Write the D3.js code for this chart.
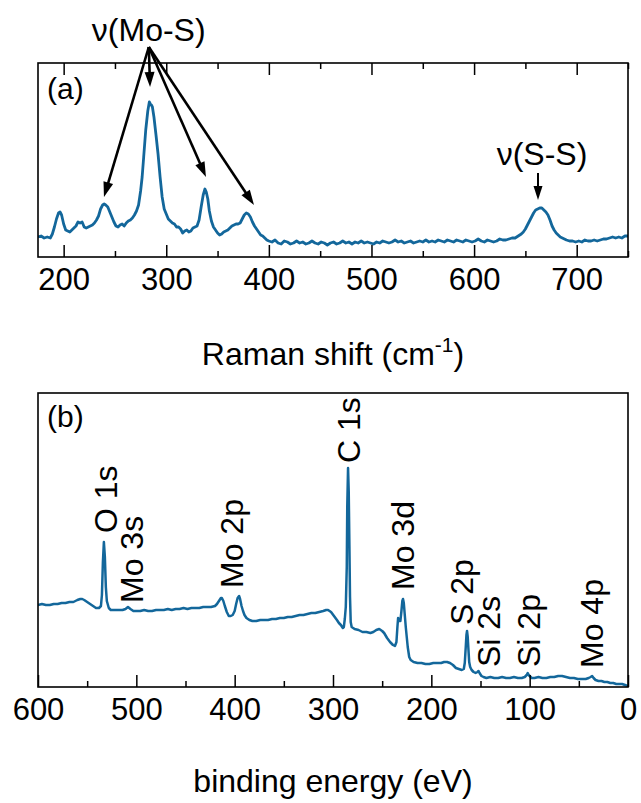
<!DOCTYPE html>
<html>
<head>
<meta charset="utf-8">
<script src="https://cdn.jsdelivr.net/npm/d3@7"></script>
<style>
	body { margin: 0; background: #fff; }
	svg { display: block; font-family: "Liberation Sans", Arial, Helvetica, sans-serif; }
</style>
</head>
<body>
<div id="chart"></div>
<script>
'use strict';

/*** Data ---> ***/
// Raman spectrum, [shift (cm-1), intensity (a.u.)]
var ramanSpectrum = [
	[175,20],[178,21],[181,19],[184,20],[187,19],[189,23],[191,30],[193,38],[195,44],[196.5,45],[198,42],[200,33],
	[202,27],[204,26],[206,25],[208,27],[210,29],[212,31],[214,35],[216,34],[218,35],[220,30],[222,29],[224,30],
	[226,31],[228,32],[230,34],[232,37],[234,41],[236,48],[238,52],[239.5,53],[241,52],[243,50],[245,45],[247,40],
	[249,35],[251,31],[253,30],[255,32],[257,33],[259,31],[261,34],[263,36],[265,37],[267,39],[269,42],[271,46],
	[273,52],[275,66],[276.5,80],[278,100],[280,127],[282,146],[283.5,155],[284.5,153],[285.5,152],[286.5,150],
	[288,140],[290,122],[292,103],[294,80],[296,60],[298,48],[300,43],[302,38],[304,36],[306,34],[308,33],[310,30],
	[312,30],[314,28],[316,24],[318,26],[320,27],[322,25],[324,26],[326,29],[328,30],[330,31],[332,37],[334,50],
	[336,62],[337.7,68],[339,65],[340.5,58],[342,46],[344,36],[346,30],[348,27],[350,24],[352,22],[354,23],[356,25],
	[358,26],[360,27],[362,29],[364,31],[366,32],[368,33],[370,33],[372,34],[374,38],[376,42],[378,44],[380,43],
	[382,40],[384,35],[386,31],[388,28],[390,25],[392,22],[394,21],[396,19],[398,17],[400,16],[403,15],[406,17],
	[409,14],[412,13],[415,16],[418,15],[421,13],[424,14],[427,16],[430,14],[433,15],[436,13],[439,14],[442,16],
	[445,14],[448,13],[451,15],[454,14],[457,12],[460,14],[463,15],[466,13],[469,14],[472,16],[475,14],[478,15],
	[481,13],[484,15],[487,14],[490,16],[493,14],[496,15],[499,14],[502,13],[505,15],[508,14],[511,16],[514,15],
	[517,14],[520,15],[523,17],[526,15],[529,16],[532,14],[535,15],[538,16],[541,14],[544,15],[547,16],[550,15],
	[553,17],[556,15],[559,16],[562,15],[565,17],[568,16],[571,15],[574,17],[577,16],[580,15],[583,17],[586,16],
	[589,15],[592,17],[595,16],[598,15],[601,16],[604,18],[607,16],[610,15],[613,17],[616,16],[619,15],[622,16],
	[625,18],[628,17],[631,17],[634,18],[637,19],[640,19],[643,21],[646,23],[648,25],[650,28],[652,32],[654,36],
	[656,40],[658,44],[660,47],[662,48],[664,49],[666,49],[668,47],[670,45],[672,42],[674,37],[676,31],[678,27],
	[680,24],[682,22],[684,20],[686,19],[688,18],[690,17],[693,16],[696,16],[699,15],[702,16],[705,15],[708,17],
	[711,16],[714,16],[717,17],[720,16],[723,17],[726,18],[729,18],[732,19],[735,20],[738,19],[741,20],[744,19],
	[747,21],[750,21]
];

// XPS survey, [binding energy (eV), intensity (a.u.)]
var xpsSpectrum = [
	[600,82],[596,83],[592,82],[588,82],[584,83],[580,83],[576,84],[572,84],[568,85],[564,85],[560,87],[557,88],
	[555,88],[553,87],[550,85],[547,83],[544,81],[541,79],[538,79],[536,81],[535,92],[534,125],[533,145],[532,130],
	[531,100],[530,86],[528,79],[526,77],[523,77],[520,77],[517,77],[514,77],[511,78],[508.5,80],[506,78],[503,76],
	[500,76],[496,76],[492,77],[488,76],[484,76],[480,77],[476,77],[472,77],[468,78],[464,77],[460,78],[456,78],
	[452,79],[448,78],[444,79],[440,79],[436,79],[432,80],[428,80],[424,80],[420,81],[418,83],[416,86],[414,89],
	[413,89],[411.5,86],[410,81],[408,75],[406,71],[404,71],[402,72],[400,76],[398.5,83],[397,89],[395.5,91],
	[394.5,88],[393,81],[391.5,76],[390,72],[388,69],[385,67],[382,66],[378,66],[374,67],[370,67],[366,67],[362,68],
	[358,68],[354,69],[350,69],[346,70],[342,70],[338,71],[334,72],[330,72],[326,73],[322,74],[318,74],[314,75],
	[310,76],[307,77],[305,77],[302,75],[299,71],[296,67],[294,64],[292,62],[290,59],[289,60],[288,68],[287,80],
	[286,120],[285.5,180],[284.7,219],[284,195],[283.3,140],[282.7,90],[282,65],[281,60],[278,58],[274,57],[270,55],
	[266,55],[262,54],[259,55],[256,57],[253,58],[250,56],[248,54],[245,49],[242,45],[239,42],[237,41],[235.5,45],
	[234.5,60],[233.8,69],[232.8,66],[231.5,66],[230.5,75],[229.5,86],[228.8,88],[228,84],[227,72],[226,60],[225,50],
	[224,40],[222.5,30],[221,27],[218,25],[214,24],[210,24],[206,23],[202,23],[198,24],[194,24],[190,24],[187,25],
	[184,25],[181,24],[178,22],[175,19],[172,18],[169,17],[167,18],[166,24],[165,40],[164.3,52],[163.7,56],[163,50],
	[162.3,38],[161.5,25],[160.5,20],[159,17],[157,15],[155,14],[153,15],[152,16],[151,14],[149,11],[147,10],[144,9],
	[140,10],[136,9],[132,9],[128,10],[124,9],[120,9],[116,10],[112,9],[108,9],[105,10],[103,12],[102,14],[101,12],
	[100,11],[98,9],[95,9],[91,10],[87,9],[83,9],[79,10],[75,10],[71,11],[67,11],[63,10],[59,9],[55,9],[51,8],
	[47,8],[43,8],[40,9],[38,10],[36.5,11],[35,9],[33,7],[30,6],[27,6],[24,5],[21,5],[18,4],[15,4],[12,3],[9,3],
	[6,3],[3,2],[0,1]
];

var ramanMajorTicks = [200, 300, 400, 500, 600, 700];
var ramanMinorTicks = [250, 350, 450, 550, 650, 750];
var xpsMajorTicks = [600, 500, 400, 300, 200, 100, 0];
var xpsMinorTicks = [550, 450, 350, 250, 150, 50];

// arrows in panel (a): [from shift, from intensity, to shift, to intensity]
var moSArrows = [
	[283, 210, 239.3, 60],
	[283, 210, 284.2, 170],
	[283, 210, 338.7, 80],
	[283, 210, 385.5, 52]
];
var ssArrows = [
	[662.3, 84, 662.3, 57]
];
// text labels in panel (a): [text, shift, intensity]
var ramanLabels = [
	['\u03bd(Mo-S)', 282.9, 216],
	['\u03bd(S-S)', 666.2, 92]
];
// rotated peak labels in panel (b): [text, binding energy, intensity]
var xpsLabels = [
	['O 1s', 520, 154],
	['Mo 3s', 493.5, 84],
	['Mo 2p', 391.5, 99],
	['C 1s', 272.5, 224],
	['Mo 3d', 217.6, 97],
	['S 2p', 157.5, 62],
	['Si 2s', 130.2, 20],
	['Si 2p', 90, 20],
	['Mo 4p', 25.4, 19]
];
/*** <--- Data ***/

var width = 641, height = 803;
var lineColor = '#13679b';
var plotLeft = 38, plotRight = 628;

var svg = d3.select('#chart')
	.append('svg')
	.attr('width', width)
	.attr('height', height);

svg.append('rect').attr('width', width).attr('height', height).attr('fill', '#fff');

/*** Scales ---> ***/
var xA = d3.scaleLinear().domain([175, 750]).range([plotLeft, plotRight]);
var yA = d3.scaleLinear().domain([0, 194]).range([257, 63]);
var xB = d3.scaleLinear().domain([600, 0]).range([plotLeft, plotRight]);
var yB = d3.scaleLinear().domain([0, 294]).range([687, 393]);
/*** <--- Scales ***/

function styleAxis(g) {
	g.select('.domain').remove();
	g.selectAll('.tick line').attr('stroke', '#000').attr('stroke-width', 1.5);
	g.selectAll('.tick text')
		.attr('fill', '#000')
		.style('font-size', '31px')
		.style('font-family', '"Liberation Sans", Arial, sans-serif');
}

function drawPanel(id, x, y, majors, minors, mirrorTop, data, strokeWidth) {
	var top = y.range()[1], bottom = y.range()[0];
	var panel = svg.append('g').attr('class', 'panel-' + id);

	panel.append('clipPath')
		.attr('id', 'clip-' + id)
		.append('rect')
		.attr('x', plotLeft).attr('y', top)
		.attr('width', plotRight - plotLeft).attr('height', bottom - top);

	var line = d3.line()
		.x(function(d) { return x(d[0]); })
		.y(function(d) { return y(d[1]); });

	panel.append('path')
		.datum(data)
		.attr('clip-path', 'url(#clip-' + id + ')')
		.attr('fill', 'none')
		.attr('stroke', lineColor)
		.attr('stroke-width', strokeWidth)
		.attr('stroke-linejoin', 'round')
		.attr('d', line);

	// bottom axis, ticks pointing inward
	panel.append('g')
		.attr('transform', 'translate(0,' + bottom + ')')
		.call(d3.axisBottom(x).tickValues(majors).tickSize(-12).tickPadding(11).tickFormat(d3.format('d')))
		.call(styleAxis);
	panel.append('g')
		.attr('transform', 'translate(0,' + bottom + ')')
		.call(d3.axisBottom(x).tickValues(minors).tickSize(-6).tickFormat(''))
		.call(styleAxis);

	if (mirrorTop) {
		panel.append('g')
			.attr('transform', 'translate(0,' + top + ')')
			.call(d3.axisTop(x).tickValues(majors).tickSize(-12).tickFormat(''))
			.call(styleAxis);
		panel.append('g')
			.attr('transform', 'translate(0,' + top + ')')
			.call(d3.axisTop(x).tickValues(minors).tickSize(-6).tickFormat(''))
			.call(styleAxis);
	}

	panel.append('rect')
		.attr('x', plotLeft).attr('y', top)
		.attr('width', plotRight - plotLeft).attr('height', bottom - top)
		.attr('fill', 'none')
		.attr('stroke', '#000')
		.attr('stroke-width', 1.6);

	panel.append('text')
		.attr('x', plotLeft + 9)
		.attr('y', top + (id === 'a' ? 36 : 34))
		.style('font-size', '30px')
		.text('(' + id + ')');

	return panel;
}

var panelA = drawPanel('a', xA, yA, ramanMajorTicks, ramanMinorTicks, true, ramanSpectrum, 2.8);
var panelB = drawPanel('b', xB, yB, xpsMajorTicks, xpsMinorTicks, false, xpsSpectrum, 2.5);

/*** Arrows ---> ***/
function drawArrows(g, arrows, width, headLength, headWidth) {
	arrows.forEach(function(a) {
		var x1 = xA(a[0]), y1 = yA(a[1]), x2 = xA(a[2]), y2 = yA(a[3]);
		var dx = x2 - x1, dy = y2 - y1;
		var len = Math.sqrt(dx * dx + dy * dy);
		var ux = dx / len, uy = dy / len;
		var bx = x2 - ux * headLength, by = y2 - uy * headLength;
		g.append('line')
			.attr('x1', x1).attr('y1', y1)
			.attr('x2', bx + ux * 2).attr('y2', by + uy * 2)
			.attr('stroke', '#000')
			.attr('stroke-width', width);
		g.append('polygon')
			.attr('points', [
				[x2, y2],
				[bx - uy * headWidth, by + ux * headWidth],
				[bx + uy * headWidth, by - ux * headWidth]
			].map(function(p) { return p.join(','); }).join(' '))
			.attr('fill', '#000');
	});
}
drawArrows(panelA, moSArrows, 2.6, 15, 5);
drawArrows(panelA, ssArrows, 2, 14, 4.5);
/*** <--- Arrows ***/

/*** Labels ---> ***/
panelA.selectAll('text.peak-label')
	.data(ramanLabels)
	.enter()
	.append('text')
	.attr('class', 'peak-label')
	.attr('x', function(d) { return xA(d[1]); })
	.attr('y', function(d) { return yA(d[2]); })
	.attr('text-anchor', 'middle')
	.style('font-size', '32px')
	.text(function(d) { return d[0]; });

panelB.selectAll('text.peak-label')
	.data(xpsLabels)
	.enter()
	.append('text')
	.attr('class', 'peak-label')
	.attr('transform', function(d) { return 'translate(' + xB(d[1]) + ',' + yB(d[2]) + ') rotate(-90)'; })
	.style('font-size', '32px')
	.text(function(d) { return d[0]; });

// axis titles
var titleA = svg.append('text')
	.attr('x', (plotLeft + plotRight) / 2)
	.attr('y', 365)
	.attr('text-anchor', 'middle')
	.style('font-size', '32px');
titleA.append('tspan').text('Raman shift (cm');
titleA.append('tspan').attr('dy', -13).style('font-size', '21px').text('-1');
titleA.append('tspan').attr('dy', 13).text(')');

svg.append('text')
	.attr('x', (plotLeft + plotRight) / 2)
	.attr('y', 792)
	.attr('text-anchor', 'middle')
	.style('font-size', '32px')
	.text('binding energy (eV)');
/*** <--- Labels ***/
</script>
</body>
</html>
